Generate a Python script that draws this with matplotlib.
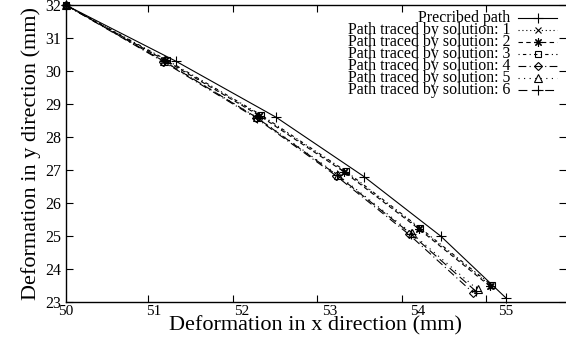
import matplotlib
matplotlib.use("Agg")
import matplotlib.pyplot as plt
from matplotlib.lines import Line2D

plt.rcParams['font.family'] = ['Liberation Serif', 'DejaVu Serif']
plt.rcParams['mathtext.fontset'] = 'stix'

# ---- data ----
pres_x = [50.0, 51.25, 52.39, 53.39, 54.26, 55.0]
pres_y = [32.0, 30.30, 28.60, 26.80, 25.00, 23.13]

sol1_x = [50.0, 51.14, 52.21, 53.17, 54.02, 54.83]
sol1_y = [32.0, 30.32, 28.66, 26.96, 25.23, 23.50]
sol2_x = [50.0, 51.13, 52.20, 53.16, 54.01, 54.82]
sol2_y = [32.0, 30.32, 28.65, 26.95, 25.22, 23.48]
sol3_x = [50.0, 51.15, 52.22, 53.18, 54.03, 54.84]
sol3_y = [32.0, 30.33, 28.67, 26.97, 25.24, 23.51]
sol4_x = [50.0, 51.11, 52.16, 53.07, 53.90, 54.63]
sol4_y = [32.0, 30.28, 28.58, 26.83, 25.05, 23.28]
sol5_x = [50.0, 51.12, 52.17, 53.09, 53.93, 54.68]
sol5_y = [32.0, 30.29, 28.60, 26.86, 25.09, 23.38]
sol6_x = [50.0, 51.12, 52.17, 53.08, 53.92, 54.66]
sol6_y = [32.0, 30.29, 28.59, 26.85, 25.07, 23.33]

labels = ["Precribed path",
          "Path traced by solution: 1",
          "Path traced by solution: 2",
          "Path traced by solution: 3",
          "Path traced by solution: 4",
          "Path traced by solution: 5",
          "Path traced by solution: 6"]

x_ticks = [50, 51, 52, 53, 54, 55]
y_ticks = [23, 24, 25, 26, 27, 28, 29, 30, 31, 32]
x_tick_marks = [50.94, 51.90, 52.86, 53.82, 54.78]

# ---- styles ----
styles = [
    dict(ls='-', marker='+', ms=7, mfc='none'),
    dict(ls=(0, (1, 2.5)), marker='x', ms=5, mfc='none'),
    dict(ls=(0, (4, 3)), marker=(8, 2, 0), ms=6, mfc='none'),
    dict(ls=(0, (1, 3, 3, 3)), marker='s', ms=5, mfc='none'),
    dict(ls=(0, (7, 3, 1, 3)), marker='D', ms=4.5, mfc='none'),
    dict(ls=(0, (1, 4)), marker='^', ms=5.5, mfc='none'),
    dict(ls=(0, (8, 4)), marker='+', ms=7, mfc='none'),
]

fig = plt.figure(figsize=(5.66, 3.48), dpi=100)
ax = fig.add_axes([65.7/566, 1-302/348, 1-65.7/566, 297/348])

series = [(pres_x, pres_y), (sol1_x, sol1_y), (sol2_x, sol2_y), (sol3_x, sol3_y),
          (sol4_x, sol4_y), (sol5_x, sol5_y), (sol6_x, sol6_y)]
for (xs, ys), st in zip(series, styles):
    ax.plot(xs, ys, color='black', lw=0.8, mew=0.8, clip_on=False, **st)

ax.set_xlim(50, 50 + (566-65.7)/88.0)
ax.set_ylim(23, 32)

ax.set_xticks(x_ticks)
ax.set_xticklabels([str(v) for v in x_ticks])
ax.set_xticks(x_tick_marks, minor=True)
ax.tick_params(axis='x', which='major', length=0, pad=2, labelsize=11)
ax.tick_params(axis='x', which='minor', direction='in', length=5, width=0.8,
               top=True, bottom=True)
ax.set_yticks(y_ticks)
ax.tick_params(axis='y', which='major', direction='in', length=5, width=0.8,
               left=True, right=True, labelsize=11.5, pad=3)
for s in ['left', 'top', 'bottom']:
    ax.spines[s].set_linewidth(1.0)
ax.spines['right'].set_visible(False)

ax.set_xlabel("Deformation in x direction (mm)", fontsize=16, labelpad=-1)
ax.set_ylabel("Deformation in y direction (mm)", fontsize=16, labelpad=3)

# ---- legend (gnuplot-style, right aligned) ----
def px2ax(xp, yp):
    return (xp - 65.7) / (566 - 65.7), (302 - yp) / 297.0

for i, (lab, st) in enumerate(zip(labels, styles)):
    yp = 17.5 + 12.0 * i
    tx, ty = px2ax(510, yp + 1)
    ax.text(tx, ty, lab, transform=ax.transAxes, ha='right', va='center',
            fontsize=11.4)
    x0, yy = px2ax(518, yp)
    x1, _ = px2ax(557, yp)
    xm, _ = px2ax(537.5, yp)
    st2 = dict(st)
    mk = st2.pop('marker'); ms = st2.pop('ms'); st2.pop('mfc')
    ax.add_line(Line2D([x0, x1], [yy, yy], transform=ax.transAxes, color='black',
                       lw=0.8, clip_on=False, **st2))
    ax.add_line(Line2D([xm], [yy], transform=ax.transAxes, color='black',
                       marker=mk, ms=ms, mfc='none', mew=0.8, ls='none',
                       clip_on=False))

fig.savefig("out.png", dpi=100)
